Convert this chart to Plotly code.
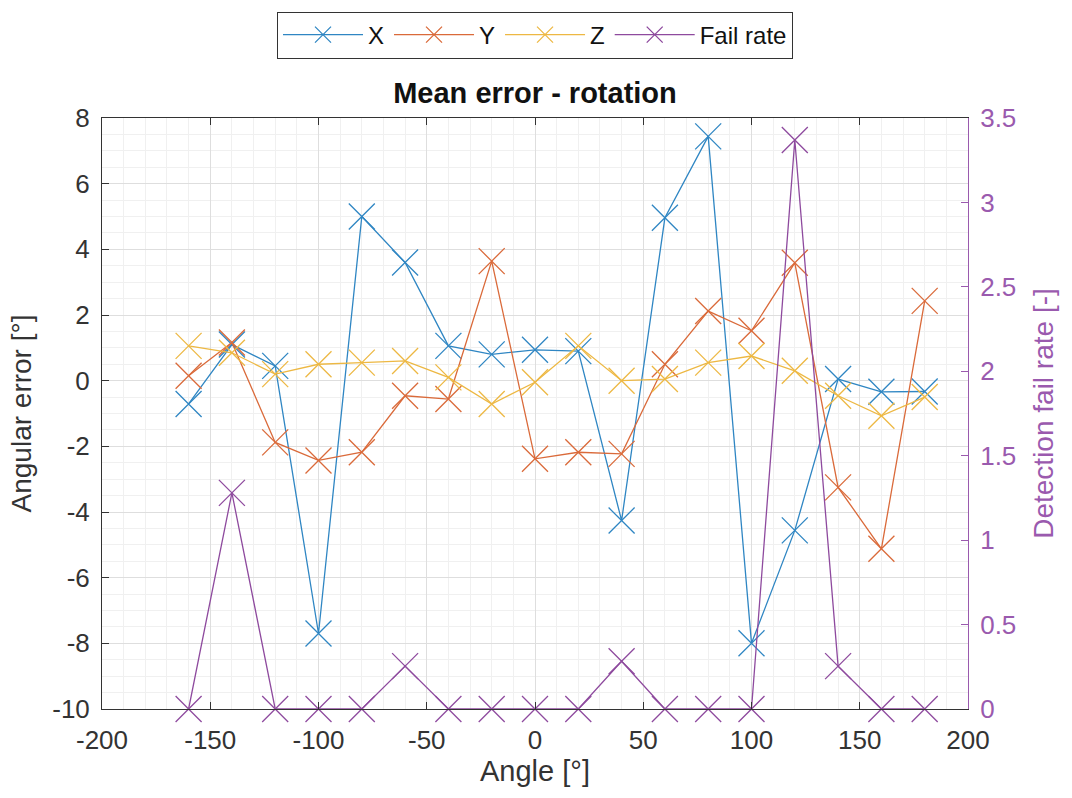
import plotly.graph_objects as go

angles = [-160, -140, -120, -100, -80, -60, -40, -20, 0, 20, 40, 60, 80, 100, 120, 140, 160, 180]
x_err = [-0.71, 1.1, 0.45, -7.7, 5.0, 3.6, 1.06, 0.8, 0.94, 0.9, -4.26, 4.96, 7.44, -8.0, -4.56, 0.05, -0.34, -0.33]
y_err = [0.15, 1.16, -1.88, -2.43, -2.18, -0.46, -0.56, 3.64, -2.38, -2.18, -2.23, 0.5, 2.12, 1.52, 3.59, -3.25, -5.12, 2.43]
z_err = [1.06, 0.85, 0.2, 0.5, 0.55, 0.6, 0.1, -0.71, -0.05, 1.06, 0.0, 0.05, 0.55, 0.75, 0.3, -0.46, -1.07, -0.5]
fail_rate = [0, 1.28, 0, 0, 0, 0.254, 0, 0, 0, 0, 0.283, 0, 0, 0, 3.37, 0.254, 0, 0]

x_ticks = [-200, -150, -100, -50, 0, 50, 100, 150, 200]
y_ticks = [8, 6, 4, 2, 0, -2, -4, -6, -8, -10]
y2_ticks = [0, 0.5, 1, 1.5, 2, 2.5, 3, 3.5]

c_x = "#2F86C3"
c_y = "#DA6A3A"
c_z = "#EDB843"
c_f = "#8E4A9E"
c_f_axis = "#9A5AAE"

font_family = "Liberation Sans, Arial, sans-serif"

def fmt(v):
    return ("%g" % v)

fig = go.Figure()

def add(name, yvals, color, axis):
    fig.add_trace(go.Scatter(
        x=angles, y=yvals, name=name, mode="lines+markers", yaxis=axis,
        line=dict(color=color, width=1.3), cliponaxis=False,
        marker=dict(symbol="x-thin", size=26, line=dict(color=color, width=1.3)),
    ))

add("X", x_err, c_x, "y")
add("Y", y_err, c_y, "y")
add("Z", z_err, c_z, "y")
add("Fail rate", fail_rate, c_f, "y2")

fig.update_layout(
    width=1072, height=798,
    margin=dict(l=102, r=104, t=115, b=89),
    paper_bgcolor="white", plot_bgcolor="white",
    font=dict(family=font_family, size=26, color="#333333"),
    title=dict(text="<b>Mean error - rotation</b>", x=0.5, xref="paper", xanchor="center",
               y=1 - 93/798, yanchor="middle", font=dict(size=29, color="#111111")),
    showlegend=True,
    legend=dict(orientation="h", x=0.5, xanchor="center", y=1 + (115 - 8) / 594, yanchor="top",
                bordercolor="#333333", borderwidth=1, bgcolor="white",
                font=dict(size=24, color="#111111"), itemwidth=80, traceorder="normal",
                tracegroupgap=0),
    xaxis=dict(
        range=[-200, 200], tickvals=x_ticks, ticktext=[fmt(v) for v in x_ticks],
        ticks="inside", ticklen=7, tickcolor="#333333",
        showline=True, linecolor="#333333", linewidth=1, mirror="ticks",
        showgrid=True, gridcolor="#DEDEDE", gridwidth=1, zeroline=False,
        minor=dict(dtick=10, showgrid=True, gridcolor="#F0F0F0", gridwidth=1, ticks=""),
        title=dict(text="Angle [°]", font=dict(size=29, color="#333333"), standoff=6),
        tickfont=dict(size=26, color="#333333"), ticklabelstandoff=8,
    ),
    yaxis=dict(
        range=[-10, 8], tickvals=y_ticks, ticktext=[fmt(v) for v in y_ticks],
        ticks="inside", ticklen=7, tickcolor="#333333",
        showline=True, linecolor="#333333", linewidth=1,
        showgrid=True, gridcolor="#DEDEDE", gridwidth=1, zeroline=False,
        minor=dict(dtick=0.5, showgrid=True, gridcolor="#F0F0F0", gridwidth=1, ticks=""),
        title=dict(text="Angular error [°]", font=dict(size=28, color="#333333"), standoff=12),
        tickfont=dict(size=26, color="#333333"), ticklabelstandoff=6,
    ),
    yaxis2=dict(
        range=[0, 3.5], tickvals=y2_ticks, ticktext=[fmt(v) for v in y2_ticks],
        overlaying="y", side="right",
        ticks="inside", ticklen=7, tickcolor=c_f_axis,
        showline=True, linecolor=c_f_axis, linewidth=1,
        showgrid=False, zeroline=False,
        title=dict(text="Detection fail rate [-]", font=dict(size=28, color=c_f_axis), standoff=18),
        tickfont=dict(size=26, color=c_f_axis), ticklabelstandoff=6,
    ),
)

fig.write_html("out.html")
